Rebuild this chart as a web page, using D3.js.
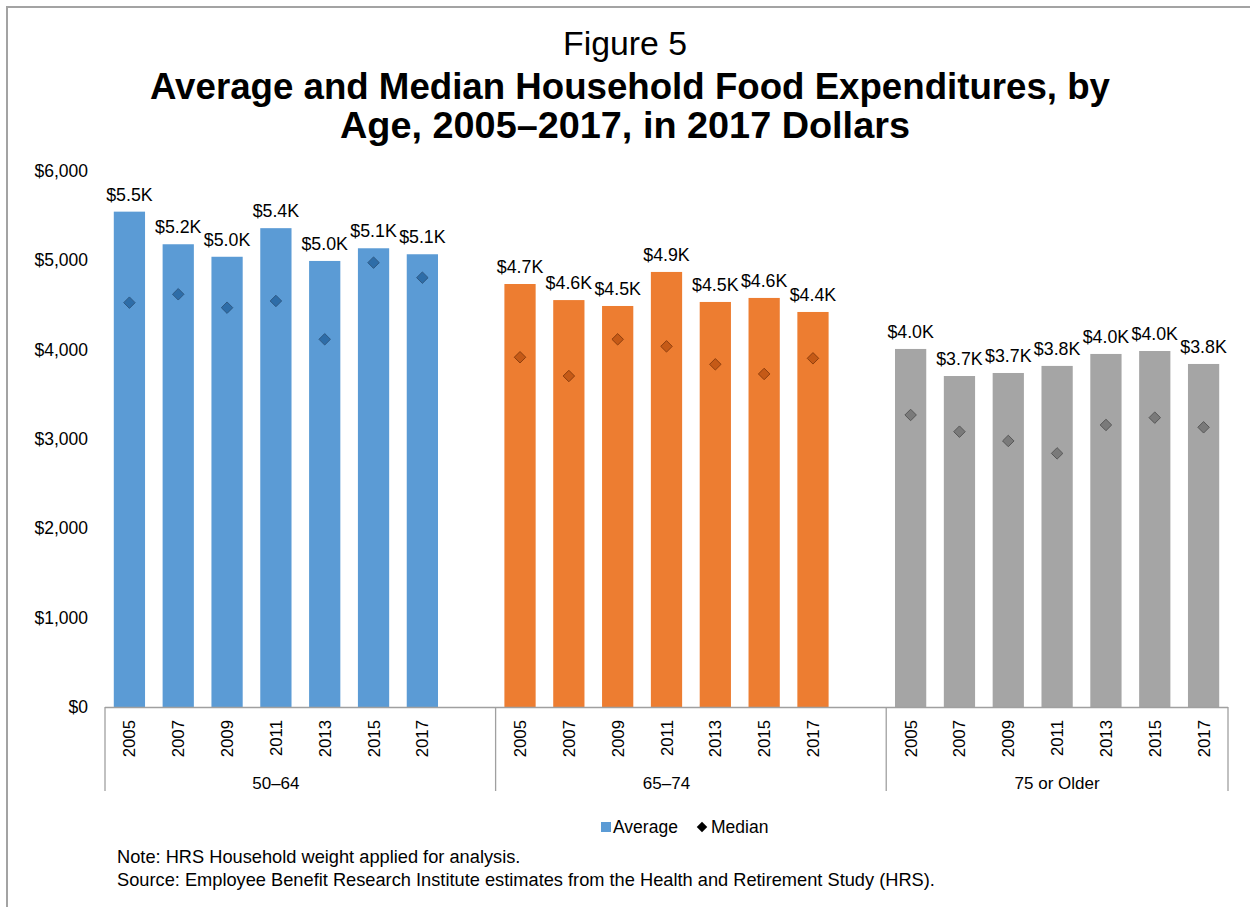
<!DOCTYPE html>
<html>
<head>
<meta charset="utf-8">
<script src="https://cdn.jsdelivr.net/npm/d3@7/dist/d3.min.js"></script>
<style>
  html, body { margin: 0; padding: 0; background: #fff; }
  svg { display: block; font-family: "Liberation Sans", Arial, sans-serif; }
</style>
</head>
<body>
<svg id="chart" width="1250" height="907"></svg>
<script>
// Age groups and survey years
const groups = ["50–64", "65–74", "75 or Older"];
const years = ["2005", "2007", "2009", "2011", "2013", "2015", "2017"];

// Average household food expenditure (2017 dollars), by age group
const average5064 = [5545, 5180, 5040, 5360, 4993, 5135, 5068];
const average6574 = [4735, 4555, 4489, 4870, 4534, 4579, 4422];
const average75   = [4008, 3705, 3739, 3818, 3952, 3985, 3840];

// Median household food expenditure (2017 dollars), by age group
const median5064 = [4526, 4620, 4470, 4545, 4116, 4974, 4806];
const median6574 = [3915, 3705, 4116, 4037, 3836, 3728, 3903];
const median75   = [3269, 3082, 2978, 2839, 3157, 3239, 3131];

const yTicks = [0, 1000, 2000, 3000, 4000, 5000, 6000];

const averages = [average5064, average6574, average75];
const medians = [median5064, median6574, median75];
const barColors = ["#5B9BD5", "#ED7D31", "#A5A5A5"];
const diamondFill = ["#2E6DA8", "#C55A17", "#7A7A7A"];
const diamondStroke = ["#2F5A85", "#8F3F0E", "#585858"];

// Flat category list: each group of years followed by an empty slot
const slots = [];
groups.forEach((g, gi) => {
  years.forEach((y, yi) => slots.push({ key: g + "|" + y, group: gi, year: y, avg: averages[gi][yi], med: medians[gi][yi] }));
  if (gi < groups.length - 1) slots.push({ key: g + "|gap", group: gi, gap: true });
});

const svg = d3.select("#chart");

// Outer frame
svg.append("path")
  .attr("d", "M7,907 V7 H1250")
  .attr("fill", "none")
  .attr("stroke", "#A3A3A3")
  .attr("stroke-width", 2);

const x = d3.scaleBand().domain(slots.map(d => d.key)).range([105, 1228]).paddingInner(0.36).paddingOuter(0.18);
const y = d3.scaleLinear().domain([0, 6000]).range([707, 171]);
const band = (1228 - 105) / slots.length;

// Title
function fitText(sel, width) {
  const len = sel.node().getComputedTextLength();
  const fs = parseFloat(sel.attr("font-size"));
  sel.attr("font-size", (fs * width / len).toFixed(2));
}
const t1 = svg.append("text").attr("x", 625).attr("y", 55).attr("text-anchor", "middle")
  .attr("font-size", 32).attr("fill", "#000").text("Figure 5");
fitText(t1, 124);
const t2 = svg.append("text").attr("x", 630).attr("y", 99).attr("text-anchor", "middle")
  .attr("font-size", 32).attr("font-weight", "bold").attr("fill", "#000")
  .text("Average and Median Household Food Expenditures, by");
fitText(t2, 960);
const t3 = svg.append("text").attr("x", 625).attr("y", 138).attr("text-anchor", "middle")
  .attr("font-size", 32).attr("font-weight", "bold").attr("fill", "#000")
  .text("Age, 2005–2017, in 2017 Dollars");
fitText(t3, 570);

// Y axis (labels only)
const yAxis = d3.axisLeft(y).tickValues(yTicks).tickSize(0).tickPadding(0)
  .tickFormat(d => "$" + d3.format(",")(d));
const yg = svg.append("g").attr("transform", "translate(88,0)").call(yAxis);
yg.select(".domain").remove();
yg.selectAll("text").attr("font-size", 17.5).attr("fill", "#000")
  .attr("font-family", "Liberation Sans, Arial, sans-serif");

// Bars
const data = slots.filter(d => !d.gap);
svg.append("g").selectAll("rect").data(data).join("rect")
  .attr("x", d => x(d.key))
  .attr("width", x.bandwidth())
  .attr("y", d => y(d.avg))
  .attr("height", d => y(0) - y(d.avg))
  .attr("fill", d => barColors[d.group]);

// Value labels
svg.append("g").selectAll("text").data(data).join("text")
  .attr("x", d => x(d.key) + x.bandwidth() / 2)
  .attr("y", d => y(d.avg) - 11)
  .attr("text-anchor", "middle")
  .attr("font-size", 17.8)
  .attr("fill", "#000")
  .text(d => "$" + (d.avg / 1000).toFixed(1) + "K");

// Median markers
const diamond = d3.symbol().type(d3.symbolDiamond2).size(84);
svg.append("g").selectAll("path").data(data).join("path")
  .attr("transform", d => `translate(${x(d.key) + x.bandwidth() / 2},${y(d.med)})`)
  .attr("d", diamond)
  .attr("fill", d => diamondFill[d.group])
  .attr("stroke", d => diamondStroke[d.group])
  .attr("stroke-width", 1);

// X axis: baseline, group dividers, year and group labels
const axisCol = "#A0A0A0";
svg.append("line").attr("x1", 105).attr("x2", 1228).attr("y1", 707.5).attr("y2", 707.5)
  .attr("stroke", axisCol).attr("stroke-width", 1.3);
const dividers = [105, 105 + band * 8, 105 + band * 16, 1228];
svg.append("g").selectAll("line").data(dividers).join("line")
  .attr("x1", d => d).attr("x2", d => d).attr("y1", 707).attr("y2", 791)
  .attr("stroke", axisCol).attr("stroke-width", 1.3);

svg.append("g").selectAll("text").data(data).join("text")
  .attr("transform", d => `translate(${x(d.key) + x.bandwidth() / 2 + 6},720) rotate(-90)`)
  .attr("text-anchor", "end")
  .attr("font-size", 16.8)
  .attr("fill", "#000")
  .text(d => d.year);

svg.append("g").selectAll("text").data(groups).join("text")
  .attr("x", (d, i) => i < 2 ? (dividers[i] + dividers[i] + band * 7) / 2 : (dividers[2] + dividers[3]) / 2)
  .attr("y", 789)
  .attr("text-anchor", "middle")
  .attr("font-size", 17)
  .attr("fill", "#000")
  .text(d => d);

// Legend
const lg = svg.append("g").attr("transform", "translate(601,827)");
lg.append("rect").attr("x", 0).attr("y", -5).attr("width", 10).attr("height", 10).attr("fill", barColors[0]);
lg.append("text").attr("x", 12).attr("y", 6).attr("font-size", 17.5).attr("fill", "#000").text("Average");
lg.append("path").attr("transform", "translate(101,0)").attr("d", d3.symbol().type(d3.symbolDiamond2).size(70)).attr("fill", "#000");
lg.append("text").attr("x", 110).attr("y", 6).attr("font-size", 17.5).attr("fill", "#000").text("Median");

// Notes
const n1 = svg.append("text").attr("x", 117).attr("y", 863).attr("font-size", 15).attr("fill", "#000")
  .text("Note: HRS Household weight applied for analysis.");
const n2 = svg.append("text").attr("x", 117).attr("y", 886).attr("font-size", 15).attr("fill", "#000")
  .text("Source: Employee Benefit Research Institute estimates from the Health and Retirement Study (HRS).");
fitText(n2, 818);
n1.attr("font-size", n2.attr("font-size"));
</script>
</body>
</html>
